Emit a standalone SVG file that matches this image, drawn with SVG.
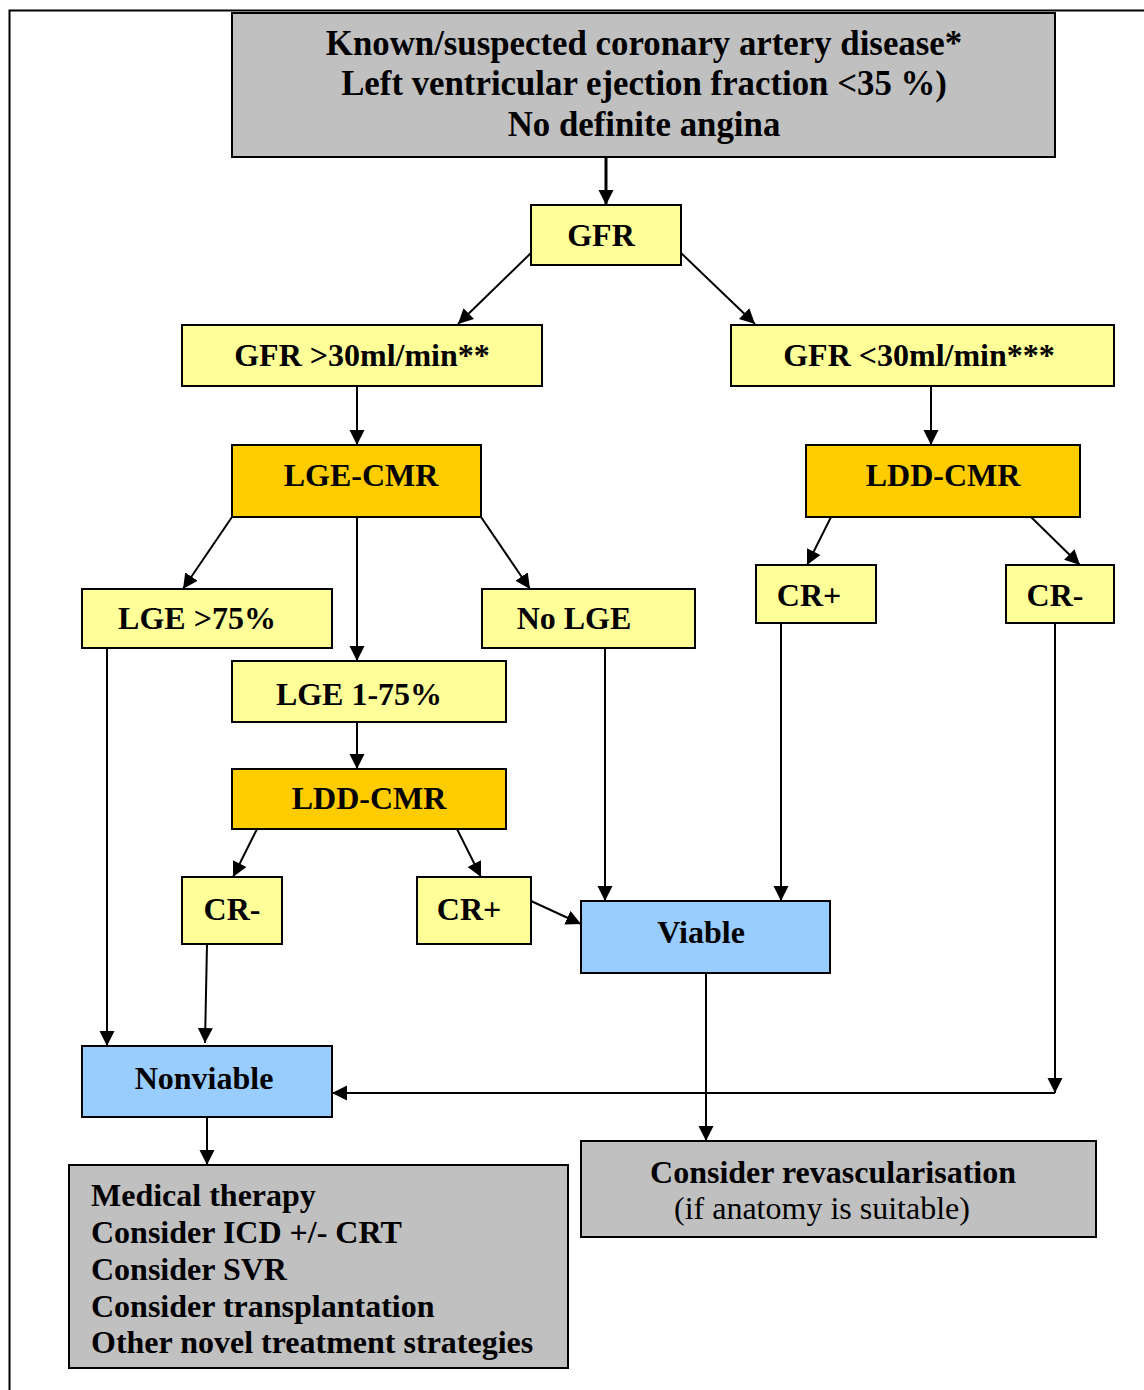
<svg xmlns="http://www.w3.org/2000/svg" width="1144" height="1390" viewBox="0 0 1144 1390">
<style>
.box{stroke:#000;stroke-width:2}
.grey{fill:#c0c0c0}
.yel{fill:#ffff99}
.org{fill:#ffcc00}
.blu{fill:#99ccff}
text{font-family:"Liberation Serif","Times New Roman",serif;font-size:32px;fill:#000}
text.big{font-size:34.8px}
.b{font-weight:bold}
.c{text-anchor:middle}
.con line{stroke:#000;stroke-width:2;fill:none}
</style>
<defs>
<marker id="ah" markerWidth="15" markerHeight="16" refX="15" refY="8" orient="auto" markerUnits="userSpaceOnUse">
<path d="M0,0.5 L15,8 L0,15.5 Z" fill="#000"/>
</marker>
</defs>
<rect x="9.5" y="10.5" width="1140" height="1390" fill="none" stroke="#000" stroke-width="2"/>

<g id="top">
<rect class="box grey" x="232" y="13" width="823" height="144"/>
<text class="b c big" x="644" y="55">Known/suspected coronary artery disease*</text>
<text class="b c big" x="644" y="95">Left ventricular ejection fraction &lt;35 %)</text>
<text class="b c big" x="644" y="136">No definite angina</text>
</g>
<g id="gfr"><rect class="box yel" x="531" y="205" width="150" height="60"/><text class="b c" x="601" y="246">GFR</text></g>
<g id="gfr-hi"><rect class="box yel" x="182" y="325" width="360" height="61"/><text class="b c" x="362" y="366">GFR &gt;30ml/min**</text></g>
<g id="gfr-lo"><rect class="box yel" x="731" y="325" width="383" height="61"/><text class="b c" x="919" y="366">GFR &lt;30ml/min***</text></g>
<g id="lge-cmr"><rect class="box org" x="232" y="445" width="249" height="72"/><text class="b c" x="361" y="486">LGE-CMR</text></g>
<g id="ldd-cmr-r"><rect class="box org" x="806" y="445" width="274" height="72"/><text class="b c" x="943" y="486">LDD-CMR</text></g>
<g id="lge75"><rect class="box yel" x="82" y="589" width="250" height="59"/><text class="b c" x="197" y="629">LGE &gt;75%</text></g>
<g id="nolge"><rect class="box yel" x="482" y="589" width="213" height="59"/><text class="b c" x="574" y="629">No LGE</text></g>
<g id="lge1-75"><rect class="box yel" x="232" y="661" width="274" height="61"/><text class="b c" x="359" y="705">LGE 1-75%</text></g>
<g id="ldd-cmr-l"><rect class="box org" x="232" y="769" width="274" height="60"/><text class="b c" x="369" y="809">LDD-CMR</text></g>
<g id="crm-l"><rect class="box yel" x="182" y="877" width="100" height="67"/><text class="b c" x="232" y="920">CR-</text></g>
<g id="crp-l"><rect class="box yel" x="417" y="877" width="114" height="67"/><text class="b c" x="469" y="920">CR+</text></g>
<g id="crp-r"><rect class="box yel" x="756" y="565" width="120" height="58"/><text class="b c" x="809" y="606">CR+</text></g>
<g id="crm-r"><rect class="box yel" x="1006" y="565" width="108" height="58"/><text class="b c" x="1055" y="606">CR-</text></g>
<g id="viable"><rect class="box blu" x="581" y="901" width="249" height="72"/><text class="b c" x="701" y="943">Viable</text></g>
<g id="nonviable"><rect class="box blu" x="82" y="1046" width="250" height="71"/><text class="b c" x="204" y="1089">Nonviable</text></g>
<g id="medical">
<rect class="box grey" x="69" y="1165" width="499" height="203"/>
<text class="b" x="91" y="1206">Medical therapy</text>
<text class="b" x="91" y="1243">Consider ICD +/- CRT</text>
<text class="b" x="91" y="1280">Consider SVR</text>
<text class="b" x="91" y="1317">Consider transplantation</text>
<text class="b" x="91" y="1353">Other novel treatment strategies</text>
</g>
<g id="revasc">
<rect class="box grey" x="581" y="1141" width="515" height="96"/>
<text class="b c" x="833" y="1183">Consider revascularisation</text>
<text x="674" y="1219">(if anatomy is suitable)</text>
</g>

<g class="con" id="connectors">
<line x1="606" y1="157" x2="606" y2="205" style="stroke-width:3" marker-end="url(#ah)"/>
<line x1="531" y1="253" x2="458" y2="324" marker-end="url(#ah)"/>
<line x1="681" y1="253" x2="755" y2="324" marker-end="url(#ah)"/>
<line x1="357" y1="386" x2="357" y2="445" marker-end="url(#ah)"/>
<line x1="931" y1="386" x2="931" y2="445" marker-end="url(#ah)"/>
<line x1="232" y1="517" x2="183" y2="589" marker-end="url(#ah)"/>
<line x1="357" y1="517" x2="357" y2="661" marker-end="url(#ah)"/>
<line x1="481" y1="517" x2="530" y2="589" marker-end="url(#ah)"/>
<line x1="357" y1="722" x2="357" y2="769" marker-end="url(#ah)"/>
<line x1="257" y1="829" x2="233" y2="877" marker-end="url(#ah)"/>
<line x1="457" y1="829" x2="481" y2="877" marker-end="url(#ah)"/>
<line x1="531" y1="901" x2="581" y2="924" marker-end="url(#ah)"/>
<line x1="605" y1="648" x2="605" y2="901" marker-end="url(#ah)"/>
<line x1="831" y1="517" x2="807" y2="565" marker-end="url(#ah)"/>
<line x1="1031" y1="517" x2="1080" y2="565" marker-end="url(#ah)"/>
<line x1="781" y1="623" x2="781" y2="901" marker-end="url(#ah)"/>
<line x1="1055" y1="623" x2="1055" y2="1093" marker-end="url(#ah)"/>
<line x1="1055" y1="1093" x2="332" y2="1093" marker-end="url(#ah)"/>
<line x1="107" y1="648" x2="107" y2="1046" marker-end="url(#ah)"/>
<line x1="207" y1="944" x2="205" y2="1043" marker-end="url(#ah)"/>
<line x1="207" y1="1117" x2="207" y2="1165" marker-end="url(#ah)"/>
<line x1="706" y1="973" x2="706" y2="1141" marker-end="url(#ah)"/>
</g>
</svg>
